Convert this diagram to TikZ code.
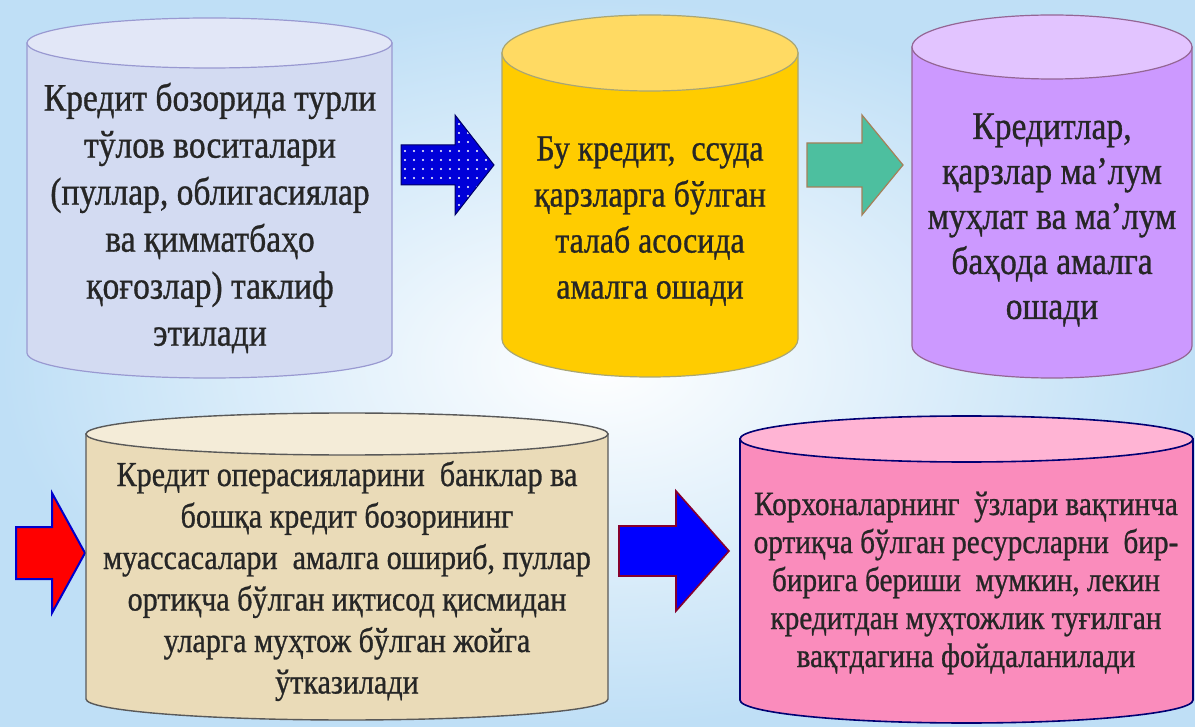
\documentclass[tikz,border=0pt]{standalone}
\usepackage{fontspec}
\setmainfont{Liberation Serif}[FakeStretch=0.86, FakeBold=0.8]
\usetikzlibrary{patterns.meta}

\definecolor{skyblue}{HTML}{BFDFF6}
\definecolor{frostbody}{HTML}{D3DBF2}
\definecolor{frosttop}{HTML}{E2E7F7}
\definecolor{goldbody}{HTML}{FFCC00}
\definecolor{goldtop}{HTML}{FFDA63}
\definecolor{lilacbody}{HTML}{CC99FF}
\definecolor{lilactop}{HTML}{E2C4FF}
\definecolor{sandbody}{HTML}{EADBB8}
\definecolor{sandtop}{HTML}{F4ECD8}
\definecolor{rosebody}{HTML}{FA8CBC}
\definecolor{rosetop}{HTML}{FFB4D4}
\definecolor{tealfill}{HTML}{4DBF9F}

% cylinder: left, right, top y, bottom y, ry, style, top colour
\newcommand{\drum}[7]{%
  \path[#6] (#1,#3) -- (#1,#4)
    arc[start angle=180, end angle=0, x radius={(#2-#1)/2}, y radius=#5] -- (#2,#3) -- cycle;
  \path[#6, fill=#7] ({(#1+#2)/2},#3) ellipse[x radius={(#2-#1)/2}, y radius=#5];
}
% block arrow: style, x left, x head, x tip, y mid, shaft half, head half
\newcommand{\blockarrow}[7]{%
  \path[#1] (#2,{#5-#6}) -- (#3,{#5-#6}) -- (#3,{#5-#7}) -- (#4,#5)
    -- (#3,{#5+#7}) -- (#3,{#5+#6}) -- (#2,{#5+#6}) -- cycle;
}

\begin{document}
\begin{tikzpicture}[x=1pt, y=-1pt,
    txt/.style={align=center, inner sep=0pt, text=black!85},
    frostdrum/.style={draw=black!45!blue!40, line width=1.2pt, fill=frostbody},
    golddrum/.style={draw=black!55!yellow!70, line width=1.2pt, fill=goldbody},
    lilacdrum/.style={draw=black!40!violet!60, line width=1.2pt, fill=lilacbody},
    sanddrum/.style={draw=black!65, line width=1.4pt, fill=sandbody},
    rosedrum/.style={draw=blue!45!black, line width=1.6pt, fill=rosebody},
    dotarrow/.style={draw=blue!40!black, line width=1pt, preaction={fill=blue!85!black},
        pattern={Dots[distance=9pt, radius=1.1pt]}, pattern color=white},
    tealarrow/.style={draw=brown!60!gray, line width=1.2pt, fill=tealfill},
    redarrow/.style={draw=blue!80!black, line width=2pt, fill=red},
    bluearrow/.style={draw=purple!70!black, line width=1.6pt, fill=blue}
]

    % background
    \useasboundingbox (0,0) rectangle (1195,727);
    \shade[inner color=white, outer color=skyblue] (0,0) rectangle (1195,727);

    % top row
    \drum{27}{392}{43}{353}{25}{frostdrum}{frosttop}
    \node[txt, font=\fontsize{39}{47}\selectfont] (offer) at (210,218)
        {Кредит бозорида турли\\ тўлов воситалари\\ (пуллар, облигасиялар\\
         ва қимматбаҳо\\ қоғозлар) таклиф\\ этилади};

    \blockarrow{dotarrow}{401}{455}{494}{165}{20}{50}

    \drum{502}{798}{53}{339}{38}{golddrum}{goldtop}
    \node[txt, font=\fontsize{37}{46}\selectfont] (demand) at (650,221)
        {Бу кредит, \ ссуда\\ қарзларга бўлган\\ талаб асосида\\ амалга ошади};

    \blockarrow{tealarrow}{807}{862}{903}{165}{22}{50}

    \drum{912}{1192}{47}{346}{32}{lilacdrum}{lilactop}
    \node[txt, font=\fontsize{39}{45}\selectfont] (term) at (1052,220)
        {Кредитлар,\\ қарзлар ма’лум\\ муҳлат ва ма’лум\\ баҳода амалга\\ ошади};

    % bottom row
    \blockarrow{redarrow}{16}{52}{85}{553}{26}{60}

    \drum{86}{608}{434}{699}{21}{sanddrum}{sandtop}
    \node[txt, font=\fontsize{35}{41.5}\selectfont] (banks) at (347,581)
        {Кредит операсияларини \ банклар ва\\ бошқа кредит бозорининг\\
         муассасалари \ амалга ошириб, пуллар\\ ортиқча бўлган иқтисод қисмидан\\
         уларга муҳтож бўлган жойга\\ ўтказилади};

    \blockarrow{bluearrow}{619}{676}{729}{551}{25}{60}

    \drum{740}{1193}{439}{700}{23}{rosedrum}{rosetop}
    \node[txt, font=\fontsize{34}{38}\selectfont] (firms) at (966,583)
        {Корхоналарнинг \ ўзлари вақтинча\\ ортиқча бўлган ресурсларни \ бир-\\
         бирига бериши \ мумкин, лекин\\ кредитдан муҳтожлик туғилган\\
         вақтдагина фойдаланилади};

\end{tikzpicture}
\end{document}
